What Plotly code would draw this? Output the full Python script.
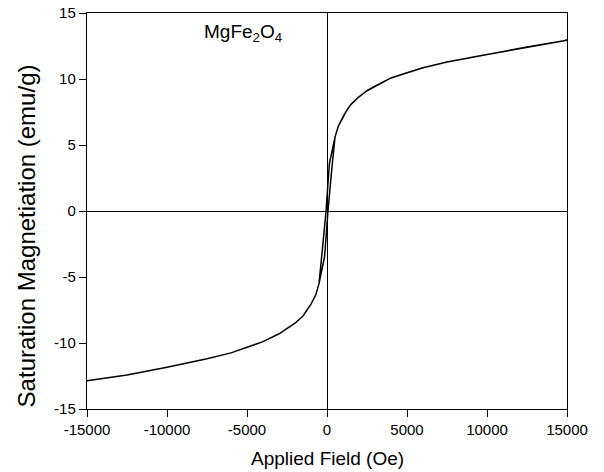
"""
MgFe2O4 磁滞回线 (M-H)
"""
import plotly.graph_objects as go

# 退磁支路: +15000 -> -15000 Oe
field_down = [15000, 12500, 10000, 9000, 7500, 6000, 5000, 4000, 3000, 2500, 2000,
              1500, 1250, 1000, 700, 500, 150, -60, -333, -500, -700, -1000, -1250,
              -1500, -2000, -2500, -3000, -4000, -5000, -6000, -7500, -9000, -10000,
              -12500, -15000]
moment_down = [12.93, 12.42, 11.86, 11.63, 11.28, 10.85, 10.47, 10.08, 9.45, 9.11, 8.65,
               8.08, 7.65, 7.14, 6.4, 5.6, 3.6, 0.0, -3.46, -5.5, -6.35, -7.05, -7.5,
               -7.95, -8.5, -8.89, -9.3, -9.9, -10.35, -10.75, -11.2, -11.6, -11.83,
               -12.42, -12.86]

# 磁化支路: -15000 -> +15000 Oe
field_up = [-15000, -12500, -10000, -9000, -7500, -6000, -5000, -4000, -3000, -2500,
            -2000, -1500, -1250, -1000, -700, -500, -150, 60, 333, 500, 700, 1000,
            1250, 1500, 2000, 2500, 3000, 4000, 5000, 6000, 7500, 9000, 10000,
            12500, 15000]
moment_up = [-12.86, -12.42, -11.83, -11.6, -11.2, -10.75, -10.35, -9.9, -9.3, -8.89,
             -8.5, -7.95, -7.5, -7.05, -6.35, -5.5, -3.46, 0.0, 3.6, 5.6, 6.4, 7.14,
             7.65, 8.08, 8.65, 9.11, 9.45, 10.08, 10.47, 10.85, 11.28, 11.63, 11.86,
             12.42, 12.93]

x_ticks = [-15000, -10000, -5000, 0, 5000, 10000, 15000]
y_ticks = [-15, -10, -5, 0, 5, 10, 15]

FONT = "Liberation Sans, Arial, sans-serif"

fig = go.Figure()

fig.add_trace(go.Scatter(
    x=field_down + field_up,
    y=moment_down + moment_up,
    mode='lines',
    line=dict(color='black', width=1.5),
    showlegend=False
))

# 样品名
fig.add_annotation(
    text="MgFe<sub>2</sub>O<sub>4</sub>",
    x=-7800, y=13.45,
    xref="x", yref="y",
    xanchor="left", yanchor="middle",
    showarrow=False,
    font=dict(family=FONT, size=19, color="black")
)

# 坐标轴标题 (用注释放置, 与原图位置一致)
fig.add_annotation(
    text="Saturation Magnetiation (emu/g)",
    x=-0.127, y=0.436,
    xref="paper", yref="paper",
    xanchor="center", yanchor="middle",
    textangle=-90,
    showarrow=False,
    font=dict(family=FONT, size=24, color="black")
)
fig.add_annotation(
    text="Applied Field (Oe)",
    x=0.5, y=-0.126,
    xref="paper", yref="paper",
    xanchor="center", yanchor="middle",
    showarrow=False,
    font=dict(family=FONT, size=19, color="black")
)

axis_style = dict(
    showline=True,
    linecolor='black',
    linewidth=1.4,
    mirror=True,
    ticks='outside',
    ticklen=7,
    tickwidth=1.2,
    tickcolor='black',
    showgrid=False,
    zeroline=True,
    zerolinecolor='black',
    zerolinewidth=1.2,
    automargin=False,
    ticklabeloverflow='allow',
    tickfont=dict(family=FONT, size=15, color='black'),
)

fig.update_xaxes(
    range=[-15000, 15000],
    tickvals=x_ticks,
    ticktext=[str(v) for v in x_ticks],
    **axis_style
)
fig.update_yaxes(
    range=[-15, 15],
    tickvals=y_ticks,
    ticktext=[str(v) for v in y_ticks],
    **axis_style
)

# 页面 body 默认 8px 边距, 图尺寸相应缩小
fig.update_layout(
    width=596,
    height=464,
    margin=dict(l=79, r=37, t=5, b=63),
    plot_bgcolor='white',
    paper_bgcolor='white',
    font=dict(family=FONT, color='black'),
)

fig.write_html("out.html")
